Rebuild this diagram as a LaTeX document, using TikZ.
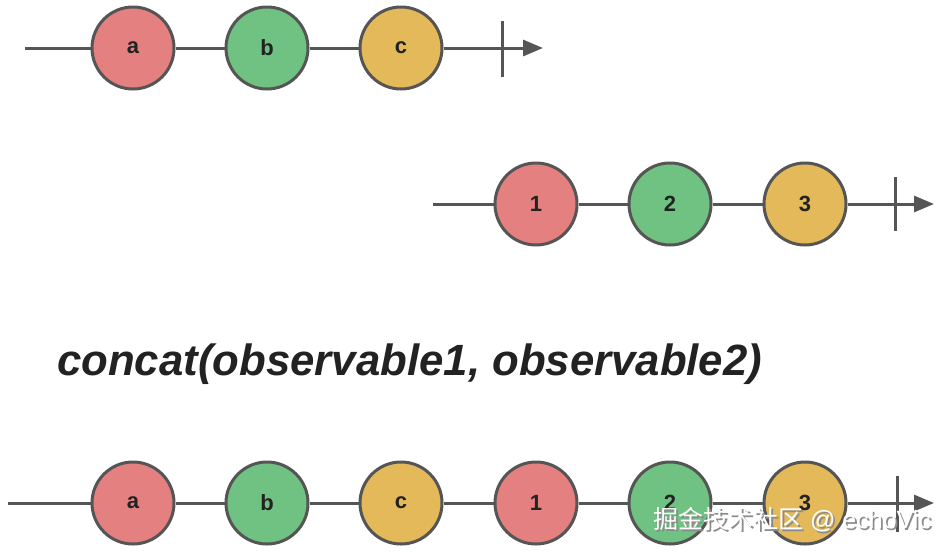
\documentclass[tikz,border=0pt]{standalone}
\usepackage{fontspec}
\setmainfont{Liberation Sans}
\newfontfamily\cjkfont{Noto Sans CJK SC}
\usetikzlibrary{arrows.meta}
\definecolor{cred}{RGB}{229,128,128}
\definecolor{cgreen}{RGB}{112,194,130}
\definecolor{cyellow}{RGB}{228,185,90}
\definecolor{cstroke}{RGB}{85,85,85}
\definecolor{ctext}{RGB}{34,34,34}
\tikzset{
  marble/.style={circle,draw=cstroke,line width=3pt,minimum size=82pt,inner sep=0pt,
    font=\fontsize{22}{22}\selectfont\bfseries,text=ctext},
  rmarble/.style={marble,fill=cred},
  gmarble/.style={marble,fill=cgreen},
  ymarble/.style={marble,fill=cyellow},
  tline/.style={draw=cstroke,line width=3pt},
  tarrow/.style={tline,-{Triangle[length=20pt,width=16pt]}},
  tickmark/.style={draw=cstroke,line width=3pt},
}
\begin{document}
\begin{tikzpicture}[x=1pt,y=-1pt]
\useasboundingbox (0,0) rectangle (949,552);
% row 1
\coordinate (s1) at (25,48);
\node[rmarble] (a1) at (133,48) {a};
\node[gmarble] (b1) at (267,48) {b};
\node[ymarble] (c1) at (401,48) {c};
\coordinate (e1) at (543,48);
\coordinate (t1a) at (502,21);
\coordinate (t1b) at (502,77);
\draw[tline] (s1) -- (a1);
\draw[tline] (a1) -- (b1);
\draw[tline] (b1) -- (c1);
\draw[tarrow] (c1) -- (e1);
\draw[tickmark] (t1a) -- (t1b);
% row 2
\coordinate (s2) at (433,204);
\node[rmarble] (n1) at (536,204) {1};
\node[gmarble] (n2) at (670,204) {2};
\node[ymarble] (n3) at (805,204) {3};
\coordinate (e2) at (934,204);
\coordinate (t2a) at (895,177);
\coordinate (t2b) at (895,231);
\draw[tline] (s2) -- (n1);
\draw[tline] (n1) -- (n2);
\draw[tline] (n2) -- (n3);
\draw[tarrow] (n3) -- (e2);
\draw[tickmark] (t2a) -- (t2b);
% title
\node[anchor=base west,inner sep=0pt,text=ctext] (title) at (57,375)
  {\resizebox{705pt}{!}{\fontsize{34}{34}\selectfont\bfseries\itshape concat(observable1, observable2)}};
% row 3
\coordinate (s3) at (8,503);
\node[rmarble] (a3) at (133,503) {a};
\node[gmarble] (b3) at (267,503) {b};
\node[ymarble] (c3) at (401,503) {c};
\node[rmarble] (m1) at (536,503) {1};
\node[gmarble] (m2) at (670,503) {2};
\node[ymarble] (m3) at (805,503) {3};
\coordinate (e3) at (934,503);
\coordinate (t3a) at (897,476);
\coordinate (t3b) at (897,532);
\draw[tline] (s3) -- (a3);
\draw[tline] (a3) -- (b3);
\draw[tline] (b3) -- (c3);
\draw[tline] (c3) -- (m1);
\draw[tline] (m1) -- (m2);
\draw[tline] (m2) -- (m3);
\draw[tarrow] (m3) -- (e3);
\draw[tickmark] (t3a) -- (t3b);
% watermark
\node[anchor=west,inner sep=0pt,text=black!45] (wms) at (654.8,521.8)
  {\fontsize{25}{25}\selectfont{\cjkfont 掘金技术社区} @ echoVic};
\node[anchor=west,inner sep=0pt,text=white] (wm) at (653,520)
  {\fontsize{25}{25}\selectfont{\cjkfont 掘金技术社区} @ echoVic};
\end{tikzpicture}
\end{document}
